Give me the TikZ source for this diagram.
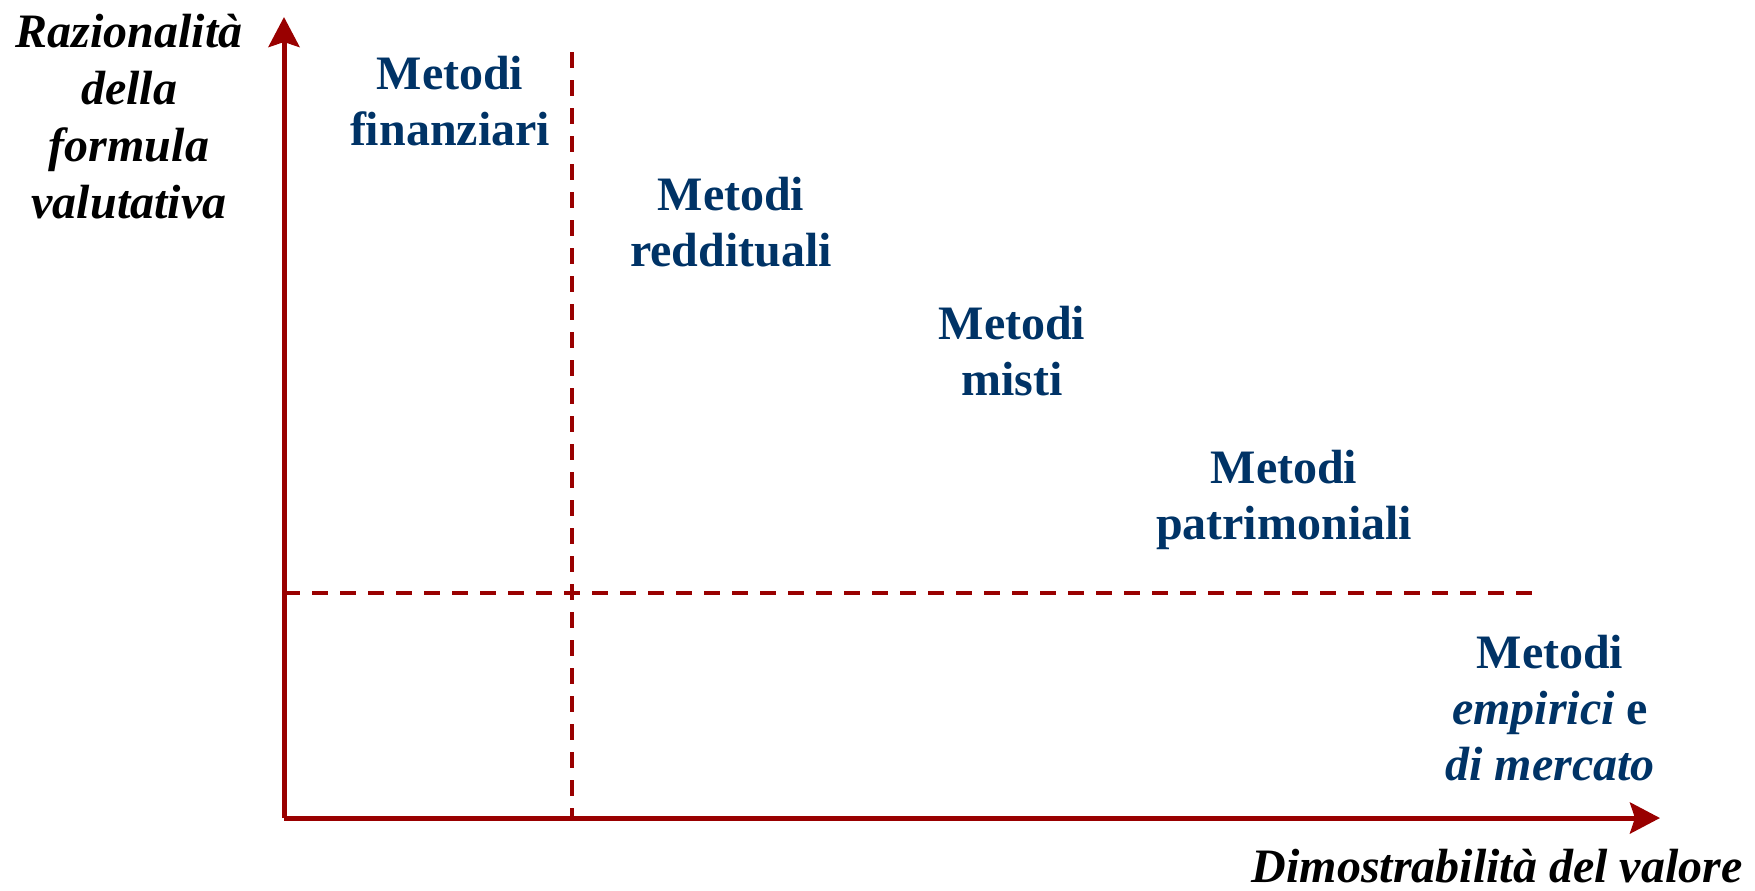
\documentclass[tikz,border=0pt]{standalone}
\usepackage{fontspec}
\setmainfont{Liberation Serif}
\usetikzlibrary{arrows.meta}
\definecolor{axisred}{HTML}{990000}
\definecolor{methodblue}{HTML}{003366}
\begin{document}
\begin{tikzpicture}[x=0.3pt,y=-0.3pt,
  axisline/.style={draw=axisred, line width=1.5pt},
  axisarrow/.style={axisline, -{Stealth[length=9pt,width=9.3pt,inset=1.5pt]}},
  divider/.style={draw=axisred, line width=1.2pt, dash pattern=on 4.8pt off 3.6pt},
  method/.style={text=methodblue, align=center, inner sep=0pt, anchor=base,
    font=\fontsize{14.4}{16.8}\selectfont\bfseries},
  axislabel/.style={text=black, align=center, inner sep=0pt, anchor=base,
    font=\fontsize{14.4}{17.1}\selectfont\bfseries\itshape}]
\useasboundingbox (0,0) rectangle (1755,890);
\coordinate (O) at (284,818);
\coordinate (ytop) at (284,17);
\coordinate (xend) at (1660,818);
\coordinate (vtop) at (572,52);
\coordinate (vbot) at (572,818);
\coordinate (hleft) at (284,593);
\coordinate (hright) at (1532,593);
\draw[divider] (vtop) -- (vbot);
\draw[divider] (hleft) -- (hright);
\draw[axisarrow] (O) -- (ytop);
\draw[axisarrow] (O) -- (xend);
\node[axislabel] (ylab) at (129,218) {Razionalità\\della\\formula\\valutativa};
\node[axislabel, anchor=base east] (xlab) at (1743,882) {Dimostrabilità del valore};
\node[method] (fin) at (450,145) {Metodi\\finanziari};
\node[method] (red) at (731,266) {Metodi\\reddituali};
\node[method] (mis) at (1012,395) {Metodi\\misti};
\node[method] (pat) at (1284,539) {Metodi\\patrimoniali};
\node[method] (emp) at (1550,780) {Metodi\\\textit{empirici} e\\\textit{di mercato}};
\end{tikzpicture}
\end{document}
